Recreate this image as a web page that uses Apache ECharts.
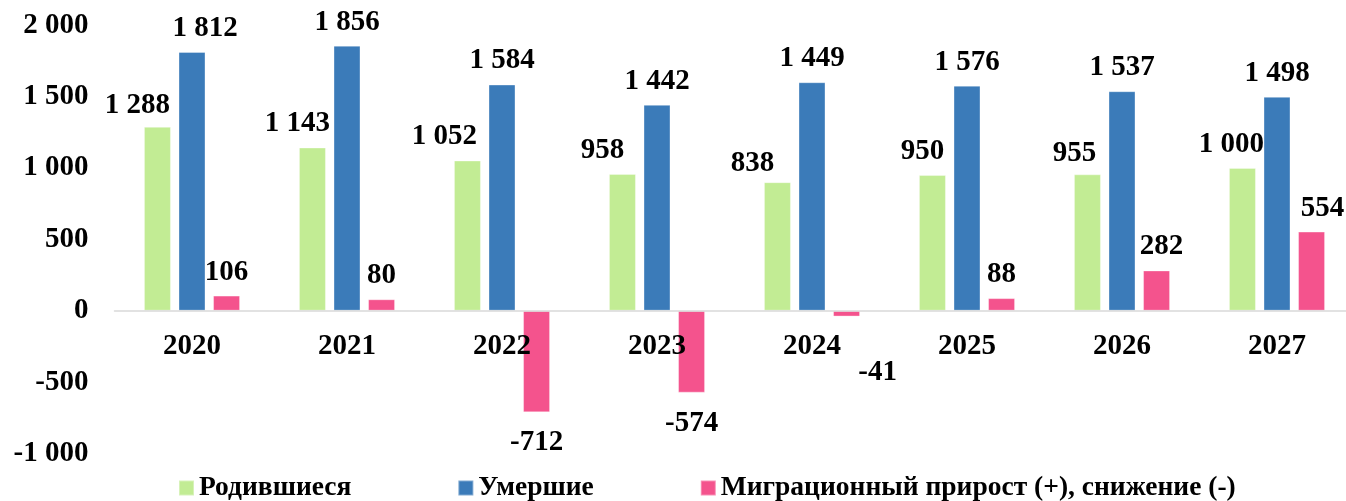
<!DOCTYPE html>
<html>
<head>
<meta charset="utf-8">
<script src="https://cdn.jsdelivr.net/npm/echarts@6/dist/echarts.min.js"></script>
<style>
html, body { margin: 0; padding: 0; background: #fff; }
#chart { width: 1346px; height: 501px; }
</style>
</head>
<body>
<div id="chart"></div>
<script>
var years = ['2020', '2021', '2022', '2023', '2024', '2025', '2026', '2027'];

// bar heights as drawn
var births = [1288, 1143, 1052, 958, 900, 950, 955, 1000];
var deaths = [1812, 1856, 1584, 1442, 1600, 1576, 1537, 1498];
var migration = [106, 80, -712, -574, -41, 88, 282, 554];

// values printed on the labels
var birthsText = [1288, 1143, 1052, 958, 838, 950, 955, 1000];
var deathsText = [1812, 1856, 1584, 1442, 1449, 1576, 1537, 1498];
var migrationText = [106, 80, -712, -574, -41, 88, 282, 554];

var seriesNames = ['Родившиеся', 'Умершие', 'Миграционный прирост (+), снижение (-)'];

// manual label nudges [dx, dy]
var birthsShift = [[-20, 2], [-15, 0], [-23, 0], [-20, 0], [-25, 5], [-10, 0], [-13, 3], [-11, 0]];
var deathsShift = [[13, 0], [0, 0], [0, 0], [0, 0], [0, 0], [0, 0], [0, 0], [0, 0]];
var migrationShift = [[0, 0], [0, 0], [0, 0], [0, 0], [31, 25], [0, 0], [5, 0], [11, 0]];

var font = '"Times New Roman", "Liberation Serif", serif';
var color = ['#c2ec94', '#3b7bb9', '#f4538d'];

function fmt(v) {
	var s = String(Math.abs(v)).replace(/\B(?=(\d{3})+(?!\d))/g, ' ');
	return (v < 0 ? '-' : '') + s;
}

function buildData(values, texts, shifts) {
	return values.map(function(v, i) {
		return {
			value: v,
			label: {
				position: v < 0 ? 'bottom' : 'top',
				distance: v < 0 ? 16 : 9,
				offset: shifts[i],
				formatter: fmt(texts[i])
			}
		};
	});
}

var myChart = echarts.init(document.getElementById('chart'));

var labelStyle = {
	show: true,
	color: '#000',
	fontFamily: font,
	fontWeight: 'bold',
	fontSize: 29
};

function makeSeries(i, values, texts, shifts) {
	return {
		name: seriesNames[i],
		type: 'bar',
		barWidth: 27,
		barGap: '28%',
		itemStyle: {
			color: color[i],
			borderColor: 'rgba(255,255,255,0.35)',
			borderWidth: 1
		},
		label: labelStyle,
		data: buildData(values, texts, shifts)
	};
}

var option = {
	backgroundColor: '#ffffff',
	animation: false,
	grid: {
		left: 114.5,
		top: 25.1,
		width: 1240,
		height: 428.4,
		outerBoundsMode: 'none',
		containLabel: false
	},
	legend: {
		left: 173,
		top: 469,
		itemWidth: 15,
		itemHeight: 15,
		itemGap: 106,
		icon: 'rect',
		textStyle: {
			color: '#000',
			fontFamily: font,
			fontWeight: 'bold',
			fontSize: 27.5
		},
		data: seriesNames
	},
	xAxis: {
		type: 'category',
		data: years,
		z: 10,
		axisTick: { show: false },
		axisLine: {
			onZero: true,
			lineStyle: { color: '#d9d9d9', width: 1.5 }
		},
		axisLabel: {
			// labels stay at the grid bottom, so pull them up under the zero line
			margin: -121,
			color: '#000',
			fontFamily: font,
			fontWeight: 'bold',
			fontSize: 29
		}
	},
	yAxis: {
		type: 'value',
		min: -1000,
		max: 2000,
		interval: 500,
		splitLine: { show: false },
		axisLine: { show: false },
		axisTick: { show: false },
		axisLabel: {
			margin: 26,
			color: '#000',
			fontFamily: font,
			fontWeight: 'bold',
			fontSize: 29,
			formatter: fmt
		}
	},
	series: [
		makeSeries(0, births, birthsText, birthsShift),
		makeSeries(1, deaths, deathsText, deathsShift),
		makeSeries(2, migration, migrationText, migrationShift)
	]
};

myChart.setOption(option);
</script>
</body>
</html>
